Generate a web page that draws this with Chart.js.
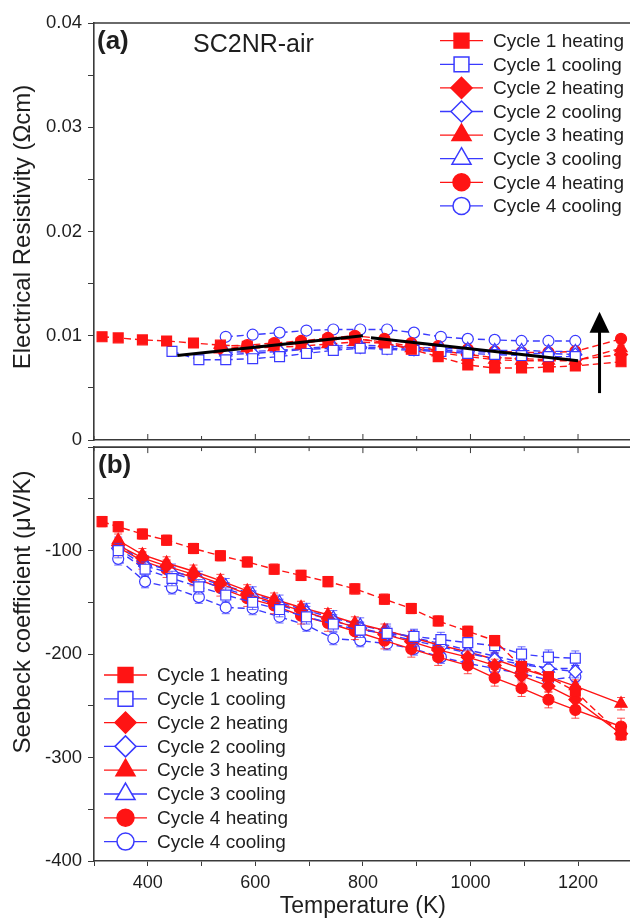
<!DOCTYPE html>
<html>
<head>
<meta charset="utf-8">
<title>SC2NR-air resistivity and Seebeck coefficient</title>
<script src="https://cdn.jsdelivr.net/npm/chart.js@4.4.0/dist/chart.umd.min.js"></script>
<style>
  html, body { margin: 0; padding: 0; background: #fff; }
  #wrap { position: relative; width: 630px; height: 923px; overflow: hidden; }
  canvas { position: absolute; left: 0; }
  #chartA { top: 0; }
  #chartB { top: 430px; }
</style>
</head>
<body>
<div id="wrap">
  <canvas id="chartA" width="640" height="460"></canvas>
  <canvas id="chartB" width="640" height="493"></canvas>
</div>
<script>
// ---- shared axis
const xTicks = [300, 400, 500, 600, 700, 800, 900, 1000, 1100, 1200, 1300];
const xLabelTicks = [400, 600, 800, 1000, 1200];

// ---- series (legend order)
const seriesNames = ['Cycle 1 heating', 'Cycle 1 cooling', 'Cycle 2 heating', 'Cycle 2 cooling',
  'Cycle 3 heating', 'Cycle 3 cooling', 'Cycle 4 heating', 'Cycle 4 cooling'];
const seriesShapes = ['rect', 'rect', 'rectRot', 'rectRot', 'triangle', 'triangle', 'circle', 'circle'];

// ---- (a) electrical resistivity, Ohm cm
const aHeatT1 = [315, 345, 390, 435, 485, 535, 585, 635, 685, 735, 785, 840, 890, 940, 995, 1045, 1095, 1145, 1195, 1280];
const aHeatT = [535, 585, 635, 685, 735, 785, 840, 890, 940, 995, 1045, 1095, 1145, 1195, 1280];
const aCoolT1 = [445, 495, 545, 595, 645, 695, 745, 795, 845, 895, 945, 995, 1045, 1095, 1145, 1195];
const aCoolT = [545, 595, 645, 695, 745, 795, 845, 895, 945, 995, 1045, 1095, 1145, 1195];

const aC1H = [0.0099, 0.0098, 0.0096, 0.0095, 0.0093, 0.0091, 0.0090, 0.0091, 0.0093, 0.0096, 0.0098, 0.0093, 0.0087, 0.0080, 0.0072, 0.0069, 0.0069, 0.0070, 0.0071, 0.0075];
const aC1C = [0.0085, 0.0077, 0.0077, 0.0078, 0.0080, 0.0083, 0.0086, 0.0088, 0.0087, 0.0086, 0.0085, 0.0083, 0.0082, 0.0081, 0.0080, 0.0080];
const aC2H = [0.0088, 0.0089, 0.0091, 0.0093, 0.0096, 0.0097, 0.0094, 0.0090, 0.0086, 0.0082, 0.0079, 0.0078, 0.0077, 0.0077, 0.0082];
const aC2C = [0.0082, 0.0083, 0.0085, 0.0087, 0.0088, 0.0089, 0.0088, 0.0087, 0.0086, 0.0085, 0.0084, 0.0083, 0.0083, 0.0082];
const aC3H = [0.0087, 0.0088, 0.0089, 0.0090, 0.0092, 0.0094, 0.0093, 0.0088, 0.0084, 0.0080, 0.0077, 0.0076, 0.0076, 0.0076, 0.0088];
const aC3C = [0.0084, 0.0085, 0.0086, 0.0088, 0.0090, 0.0091, 0.0090, 0.0089, 0.0088, 0.0087, 0.0086, 0.0086, 0.0085, 0.0085];
const aC4H = [0.0090, 0.0091, 0.0093, 0.0095, 0.0098, 0.0100, 0.0097, 0.0093, 0.0090, 0.0087, 0.0085, 0.0084, 0.0084, 0.0085, 0.0097];
const aC4C = [0.0099, 0.0101, 0.0103, 0.0105, 0.0106, 0.0106, 0.0106, 0.0103, 0.0099, 0.0097, 0.0096, 0.0095, 0.0095, 0.0095];
const aErr = [0.0003, 0.0003, 0.0003, 0.0002, 0.0003, 0.0002, 0.0003, 0.0003];

// guide lines and arrow drawn in panel (a)
const trend1T = [455, 800];
const trend1R = [0.0081, 0.0100];
const trend2T = [815, 1200];
const trend2R = [0.0098, 0.0076];
const arrowT = 1240;
const arrowR = [0.0045, 0.0123];

// ---- (b) Seebeck coefficient, uV/K
const bHeatT1 = [315, 345, 390, 435, 485, 535, 585, 635, 685, 735, 785, 840, 890, 940, 995, 1045, 1095, 1145, 1195, 1280];
const bHeatT = [345, 390, 435, 485, 535, 585, 635, 685, 735, 785, 840, 890, 940, 995, 1045, 1095, 1145, 1195, 1280];
const bCoolT = [345, 395, 445, 495, 545, 595, 645, 695, 745, 795, 845, 895, 945, 995, 1045, 1095, 1145, 1195];

const bC1H = [-72, -77, -84, -90, -98, -105, -111, -118, -124, -130, -137, -147, -156, -168, -178, -187, -212, -222, -236, -278];
const bC1C = [-100, -118, -127, -135, -143, -150, -157, -164, -171, -177, -180, -183, -186, -189, -192, -200, -203, -204];
const bC2H = [-95, -107, -115, -123, -132, -142, -150, -158, -166, -174, -181, -188, -196, -203, -211, -221, -231, -244, -277];
const bC2C = [-98, -115, -122, -129, -137, -145, -153, -160, -168, -175, -181, -187, -193, -199, -205, -210, -214, -217];
const bC3H = [-90, -104, -112, -120, -129, -139, -147, -155, -162, -170, -177, -184, -191, -198, -205, -214, -222, -231, -248];
const bC3C = [-94, -112, -120, -127, -134, -142, -150, -158, -165, -172, -178, -184, -190, -196, -202, -208, -214, -214];
const bC4H = [-97, -110, -118, -126, -136, -146, -153, -163, -170, -178, -187, -195, -203, -211, -223, -233, -244, -254, -270];
const bC4C = [-108, -130, -136, -145, -155, -156, -164, -172, -185, -187, -190, -195, -203, -209, -214, -219, -225, -222];
const bErr = [5, 7, 6, 6, 6, 7, 8, 6];

// ---- styling
const RED = '#ff1414';
const BLUE = '#3a3aff';
const AXIS = '#3a3a3a';
const TEXT = '#1e1e1e';
const FONT = '"Liberation Sans", Arial, sans-serif';
const plotRadius = { rect: 7, rectRot: 6.5, triangle: 7, circle: 5.5 };
const legendRadius = { rect: 10.5, rectRot: 10.5, triangle: 11, circle: 8.5 };

Chart.defaults.font.family = FONT;
Chart.defaults.color = TEXT;

function pts(xs, ys) {
  return xs.map((x, i) => ({ x, y: ys[i] }));
}

/**
 * One measurement series, styled by its legend position
 */
function makeSeries(i, xs, ys, err, dashed) {
  const heating = i % 2 === 0;
  const color = heating ? RED : BLUE;
  return {
    label: seriesNames[i],
    data: pts(xs, ys),
    showLine: true,
    borderColor: color,
    borderWidth: 1.4,
    borderDash: dashed ? [7, 4] : [],
    pointStyle: seriesShapes[i],
    pointRadius: plotRadius[seriesShapes[i]],
    pointBackgroundColor: heating ? color : '#fff',
    pointBorderColor: color,
    pointBorderWidth: 1.2,
    errorBar: err
  };
}

function guideLine(xs, ys) {
  return {
    label: '_guide',
    data: pts(xs, ys),
    showLine: true,
    borderColor: '#000',
    borderWidth: 3,
    pointRadius: 0
  };
}

// error bars drawn under each series
const errorBarPlugin = {
  id: 'errorBars',
  beforeDatasetDraw(chart, args) {
    const ds = chart.data.datasets[args.index];
    if (!ds.errorBar) return;
    const { ctx, scales: { x, y } } = chart;
    ctx.save();
    ctx.strokeStyle = ds.borderColor;
    ctx.globalAlpha = 0.75;
    ctx.lineWidth = 1;
    ds.data.forEach(p => {
      const px = x.getPixelForValue(p.x);
      const y1 = y.getPixelForValue(p.y + ds.errorBar);
      const y2 = y.getPixelForValue(p.y - ds.errorBar);
      ctx.beginPath();
      ctx.moveTo(px, y1); ctx.lineTo(px, y2);
      ctx.moveTo(px - 4, y1); ctx.lineTo(px + 4, y1);
      ctx.moveTo(px - 4, y2); ctx.lineTo(px + 4, y2);
      ctx.stroke();
    });
    ctx.restore();
  }
};

// box edges plus inward ticks on the edge the two panels share
const framePlugin = {
  id: 'frame',
  afterDraw(chart, args, opts) {
    const { ctx, chartArea: a, scales: { x } } = chart;
    ctx.save();
    ctx.strokeStyle = AXIS;
    ctx.lineWidth = 1.6;
    ctx.beginPath();
    ctx.moveTo(a.left, a.top);
    ctx.lineTo(a.right, a.top);
    ctx.lineTo(a.right, a.bottom);
    ctx.stroke();
    const yEdge = opts.edge === 'bottom' ? a.bottom : a.top;
    const dir = opts.edge === 'bottom' ? -1 : 1;
    ctx.lineWidth = 1;
    ctx.beginPath();
    xTicks.forEach(v => {
      const px = x.getPixelForValue(v);
      const len = xLabelTicks.includes(v) ? 6 : 4;
      ctx.moveTo(px, yEdge);
      ctx.lineTo(px, yEdge + dir * len);
    });
    ctx.stroke();
    ctx.restore();
  }
};

// legend rows: line + marker + name
const legendPlugin = {
  id: 'cycleLegend',
  afterDraw(chart, args, o) {
    const ctx = chart.ctx;
    ctx.save();
    seriesNames.forEach((name, i) => {
      const y = o.y + i * o.step;
      const heating = i % 2 === 0;
      const color = heating ? RED : BLUE;
      ctx.strokeStyle = color;
      ctx.lineWidth = 1.3;
      ctx.beginPath();
      ctx.moveTo(o.x, y);
      ctx.lineTo(o.x + 43, y);
      ctx.stroke();
      ctx.fillStyle = heating ? color : '#fff';
      ctx.lineWidth = 1.5;
      Chart.helpers.drawPoint(ctx, {
        pointStyle: seriesShapes[i],
        radius: legendRadius[seriesShapes[i]],
        rotation: 0,
        borderWidth: 1.5
      }, o.x + 21.5, y);
      ctx.fillStyle = TEXT;
      ctx.font = '19px ' + FONT;
      ctx.textAlign = 'left';
      ctx.textBaseline = 'middle';
      ctx.fillText(name, o.x + 53, y + 1);
    });
    ctx.restore();
  }
};

// panel letters, sample name, y title and the arrow
const notesPlugin = {
  id: 'notes',
  afterDraw(chart, args, o) {
    const { ctx, scales: { x, y } } = chart;
    ctx.save();
    ctx.fillStyle = TEXT;
    ctx.textBaseline = 'middle';
    ctx.textAlign = 'left';
    ctx.font = 'bold 26px ' + FONT;
    ctx.fillText(o.letter, o.letterX, o.letterY);
    if (o.sample) {
      ctx.font = '25px ' + FONT;
      ctx.fillText(o.sample, o.sampleX, o.sampleY);
    }
    // y axis title
    ctx.save();
    ctx.translate(o.titleX, o.titleY);
    ctx.rotate(-Math.PI / 2);
    ctx.textAlign = 'center';
    ctx.font = '24px ' + FONT;
    ctx.fillText(o.title, 0, 0);
    ctx.restore();
    if (o.arrow) {
      const ax = x.getPixelForValue(arrowT);
      const yBase = y.getPixelForValue(arrowR[0]);
      const yTip = y.getPixelForValue(arrowR[1]);
      ctx.strokeStyle = '#000';
      ctx.fillStyle = '#000';
      ctx.lineWidth = 3;
      ctx.beginPath();
      ctx.moveTo(ax, yBase);
      ctx.lineTo(ax, yTip + 18);
      ctx.stroke();
      ctx.beginPath();
      ctx.moveTo(ax, yTip);
      ctx.lineTo(ax - 10, yTip + 21);
      ctx.lineTo(ax + 10, yTip + 21);
      ctx.closePath();
      ctx.fill();
    }
    ctx.restore();
  }
};

function xScale(showLabels) {
  return {
    type: 'linear',
    min: 300,
    max: 1300,
    afterBuildTicks: s => { s.ticks = xTicks.map(v => ({ value: v })); },
    afterFit: s => { s.height = showLabels ? 62 : 20; },
    border: { display: true, color: AXIS, width: 1.6 },
    grid: { drawOnChartArea: false, drawTicks: showLabels, tickLength: 5, color: AXIS },
    ticks: {
      display: showLabels,
      autoSkip: false,
      maxRotation: 0,
      padding: 6,
      font: { size: 18 },
      callback: v => (xLabelTicks.includes(v) ? String(v) : '')
    },
    title: {
      display: showLabels,
      text: 'Temperature (K)',
      font: { size: 23 },
      padding: { top: 0, bottom: 3 }
    }
  };
}

function yScale(min, max, step, label, fmt) {
  return {
    type: 'linear',
    min,
    max,
    afterFit: s => { s.width = 94; },
    border: { display: true, color: AXIS, width: 1.6 },
    grid: { drawOnChartArea: false, tickLength: 6, color: AXIS },
    ticks: {
      stepSize: step,
      autoSkip: false,
      padding: 6,
      font: { size: 18.5 },
      callback: v => (label(v) ? fmt(v) : '')
    }
  };
}

const baseOptions = {
  responsive: false,
  animation: false,
  plugins: { legend: { display: false }, tooltip: { enabled: false } }
};

// ---- panel (a)
new Chart(document.getElementById('chartA'), {
  type: 'scatter',
  data: {
    datasets: [
      makeSeries(0, aHeatT1, aC1H, aErr[0], true),
      makeSeries(1, aCoolT1, aC1C, aErr[1], true),
      makeSeries(2, aHeatT, aC2H, aErr[2], true),
      makeSeries(3, aCoolT, aC2C, aErr[3], true),
      makeSeries(4, aHeatT, aC3H, aErr[4], true),
      makeSeries(5, aCoolT, aC3C, aErr[5], true),
      makeSeries(6, aHeatT, aC4H, aErr[6], true),
      makeSeries(7, aCoolT, aC4C, aErr[7], true),
      guideLine(trend1T, trend1R),
      guideLine(trend2T, trend2R)
    ].map((d, i) => ({ ...d, order: d.label === '_guide' ? -1 : i }))
  },
  options: {
    ...baseOptions,
    layout: { padding: { left: 0, right: 8, top: 23, bottom: 0 } },
    scales: {
      x: xScale(false),
      y: yScale(0, 0.04, 0.005,
        v => Math.abs(v * 100 - Math.round(v * 100)) < 1e-6,
        v => (v === 0 ? '0' : v.toFixed(2)))
    },
    plugins: {
      ...baseOptions.plugins,
      frame: { edge: 'bottom' },
      cycleLegend: { x: 440, y: 40.7, step: 23.6 },
      notes: {
        letter: '(a)', letterX: 97, letterY: 42,
        sample: 'SC2NR-air', sampleX: 193, sampleY: 45,
        title: 'Electrical Resistivity (\u03A9cm)', titleX: 23, titleY: 227,
        arrow: true
      }
    }
  },
  plugins: [errorBarPlugin, framePlugin, legendPlugin, notesPlugin]
});

// ---- panel (b)
new Chart(document.getElementById('chartB'), {
  type: 'scatter',
  data: {
    datasets: [
      makeSeries(0, bHeatT1, bC1H, bErr[0], true),
      makeSeries(1, bCoolT, bC1C, bErr[1], true),
      makeSeries(2, bHeatT, bC2H, bErr[2], false),
      makeSeries(3, bCoolT, bC2C, bErr[3], true),
      makeSeries(4, bHeatT, bC3H, bErr[4], false),
      makeSeries(5, bCoolT, bC3C, bErr[5], true),
      makeSeries(6, bHeatT, bC4H, bErr[6], false),
      makeSeries(7, bCoolT, bC4C, bErr[7], true)
    ]
  },
  options: {
    ...baseOptions,
    layout: { padding: { left: 0, right: 8, top: 10, bottom: 0 } },
    scales: {
      x: xScale(true),
      y: yScale(-400, 0, 50,
        v => v !== 0 && v % 100 === 0,
        v => String(v))
    },
    plugins: {
      ...baseOptions.plugins,
      frame: { edge: 'top' },
      cycleLegend: { x: 104, y: 245, step: 23.8 },
      notes: {
        letter: '(b)', letterX: 98, letterY: 36,
        title: 'Seebeck coefficient (\u03BCV/K)', titleX: 23, titleY: 182,
        arrow: false
      }
    }
  },
  plugins: [errorBarPlugin, framePlugin, legendPlugin, notesPlugin]
});
</script>
</body>
</html>
